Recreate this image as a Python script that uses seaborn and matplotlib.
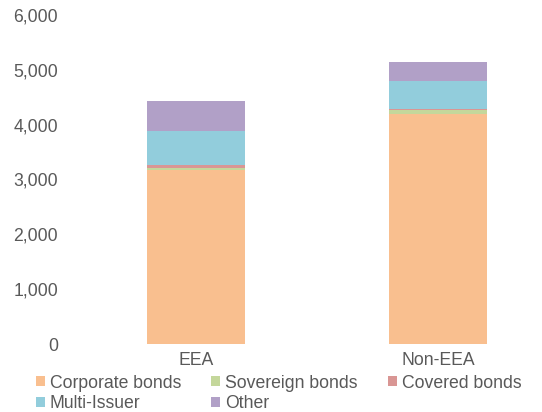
import numpy as np
import pandas as pd
import matplotlib
matplotlib.use("Agg")
import matplotlib.pyplot as plt
import seaborn as sns
from matplotlib.patches import Patch
from matplotlib.ticker import FuncFormatter

regions = ["EEA", "Non-EEA"]
corporate = [3170, 4200]
sovereign = [30, 70]
covered = [55, 15]
multi_issuer = [620, 505]
other = [550, 350]

series = ["Corporate bonds", "Sovereign bonds", "Covered bonds", "Multi-Issuer", "Other"]
values = [corporate, sovereign, covered, multi_issuer, other]
colors = ["#F9BF8F", "#C4D79B", "#D99694", "#92CDDC", "#B1A0C7"]

sns.set_style("white")
plt.rcParams["font.family"] = ["Liberation Sans", "DejaVu Sans"]
text_color = "#595959"

fig = plt.figure(figsize=(5.42, 4.12), dpi=100)
ax = fig.add_axes([0.12, 0.165, 0.877, 0.799])

# stack by drawing cumulative totals from top down
cum = np.cumsum(np.array(values), axis=0)
for i in range(len(series) - 1, -1, -1):
    df = pd.DataFrame({"region": regions, "value": cum[i]})
    sns.barplot(data=df, x="region", y="value", color=colors[i], saturation=1,
                width=0.405, linewidth=0, ax=ax)

ax.set_ylim(0, 6000)
ax.set_yticks(range(0, 6001, 1000))
ax.yaxis.set_major_formatter(FuncFormatter(lambda v, p: f"{int(v):,}"))
ax.set_xlim(-0.541, 1.421)
ax.set_xlabel("")
ax.set_ylabel("")
sns.despine(ax=ax, left=True, bottom=True)
ax.tick_params(axis="y", length=0, pad=5, labelsize=12.7, labelcolor=text_color)
ax.tick_params(axis="x", length=0, pad=6, labelsize=12.7, labelcolor=text_color)

handles = [Patch(facecolor=c, edgecolor="none") for c in colors]
order = [0, 3, 1, 4, 2]
fig.legend([handles[k] for k in order], [series[k] for k in order],
           loc="upper left", bbox_to_anchor=(0.066, 0.0905), ncol=3,
           frameon=False, borderaxespad=0, borderpad=0,
           handlelength=0.5, handleheight=0.5, handletextpad=0.3,
           columnspacing=1.7, labelspacing=0.21,
           prop={"size": 12.7}, labelcolor=text_color)

fig.savefig("out.png", dpi=100)
